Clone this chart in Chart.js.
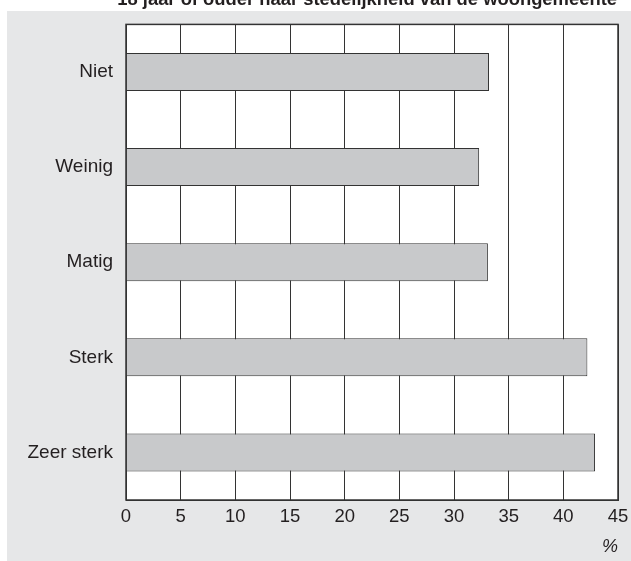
<!DOCTYPE html>
<html><head><meta charset="utf-8">
<script src="https://cdn.jsdelivr.net/npm/chart.js@4"></script>
<style>
html,body{margin:0;padding:0;background:#fff;overflow:hidden;width:631px;height:561px;position:relative;}
#title{position:absolute;right:14px;top:-12px;font:bold 18.4px "Liberation Sans",Arial,sans-serif;color:#231f20;white-space:nowrap;z-index:2;}
canvas{position:absolute;left:0;top:0;}
</style></head>
<body>
<div id="title">18 jaar of ouder naar stedelijkheid van de woongemeente</div>
<canvas id="c" width="631" height="561"></canvas>
<script>
const categories = ["Niet", "Weinig", "Matig", "Sterk", "Zeer sterk"];
const values = [33.2, 32.3, 33.1, 42.2, 42.9];
const xTicks = [0, 5, 10, 15, 20, 25, 30, 35, 40, 45];
const unitLabel = "%";

const lineCol = '#333333';
const textCol = '#231f20';
const fontFam = '"Liberation Sans", Arial, sans-serif';

const panelPlugin = {
  id: 'panel',
  beforeDraw(chart) {
    const ctx = chart.ctx, a = chart.chartArea;
    ctx.save();
    ctx.fillStyle = '#ffffff';
    ctx.fillRect(0, 0, chart.width, chart.height);
    ctx.fillStyle = '#e6e7e8';
    ctx.fillRect(7, 11, chart.width - 7, chart.height - 11);
    ctx.fillStyle = '#ffffff';
    ctx.fillRect(a.left, a.top, a.right - a.left, a.bottom - a.top);
    ctx.restore();
  },
  afterDatasetsDraw(chart) {
    const ctx = chart.ctx, a = chart.chartArea;
    ctx.save();
    ctx.strokeStyle = lineCol;
    ctx.lineWidth = 1.5;
    ctx.strokeRect(a.left, a.top, a.right - a.left, a.bottom - a.top);
    ctx.restore();
  }
};

new Chart(document.getElementById('c'), {
  type: 'bar',
  data: {
    labels: categories,
    datasets: [{
      data: values,
      backgroundColor: '#c8c9cb',
      borderColor: lineCol,
      borderWidth: 1,
      categoryPercentage: 1,
      barPercentage: 0.4
    }]
  },
  options: {
    indexAxis: 'y',
    responsive: false,
    animation: false,
    devicePixelRatio: 1,
    layout: { padding: { left: 0, top: 23, right: 13, bottom: 0 } },
    plugins: { legend: { display: false }, tooltip: { enabled: false } },
    scales: {
      x: {
        min: 0, max: 45,
        afterBuildTicks(scale) { scale.ticks = xTicks.map(v => ({ value: v })); },
        afterFit(scale) { scale.height = 61; scale.paddingRight = 0; scale.paddingLeft = 0; },
        grid: { color: lineCol, lineWidth: 1, drawTicks: false },
        border: { display: true, color: lineCol, width: 1 },
        ticks: { padding: 6, color: textCol, font: { family: fontFam, size: 18.5 } },
        title: { display: true, text: unitLabel, align: 'end', color: textCol,
                 font: { family: fontFam, size: 18, style: 'italic' }, padding: { top: 4, bottom: 3 } }
      },
      y: {
        afterFit(scale) { scale.width = 126; },
        grid: { display: false, drawTicks: false },
        border: { display: true, color: lineCol, width: 1 },
        ticks: { padding: 13, color: textCol, font: { family: fontFam, size: 19 } }
      }
    }
  },
  plugins: [panelPlugin]
});
</script>
</body></html>
